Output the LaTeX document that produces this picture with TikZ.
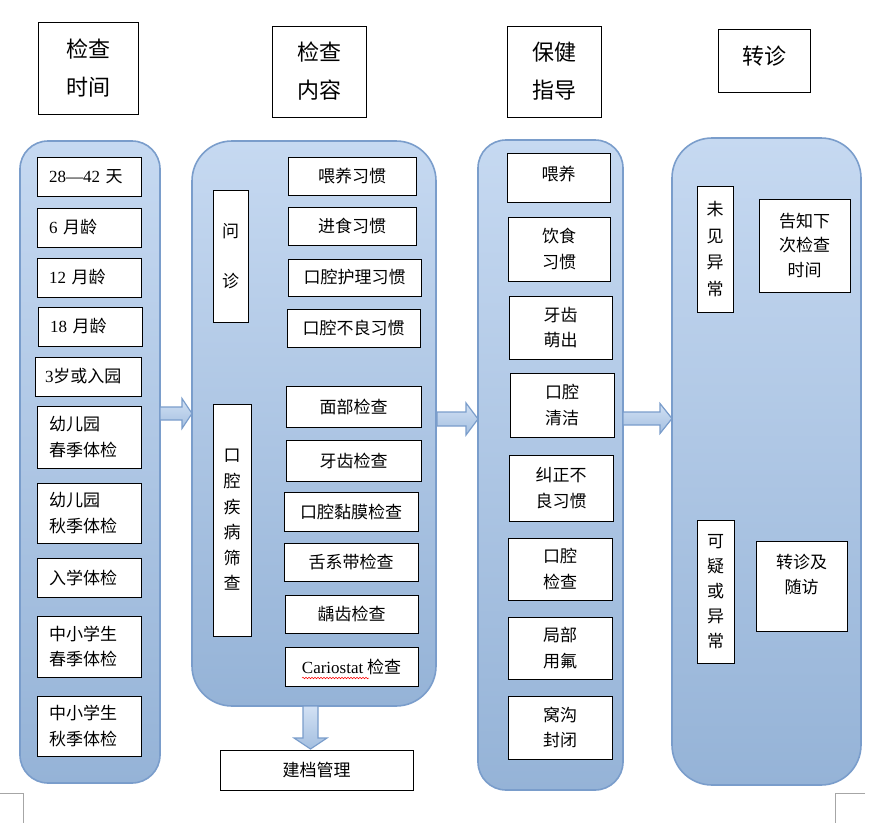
\documentclass[tikz,border=0pt]{standalone}
\usepackage{fontspec}
\setmainfont{Liberation Serif}
\newfontfamily\cjk{Noto Sans CJK SC}
\usetikzlibrary{decorations.pathmorphing}
\definecolor{coltop}{HTML}{C6D9F1}
\definecolor{colbot}{HTML}{95B3D7}
\definecolor{colline}{HTML}{7A9DCB}
\definecolor{arrtop}{HTML}{D2E1F4}
\definecolor{arrbot}{HTML}{A4BFE0}
\newcommand\lat[1]{{\rmfamily #1}}
\newcommand\myharrow[6]{\draw[barrow] (#1,#2-#5) -- (#3,#2-#5) -- (#3,#2-#6) -- (#4,#2) -- (#3,#2+#6) -- (#3,#2+#5) -- (#1,#2+#5) -- cycle;}
\tikzset{
  box/.style={draw=black, line width=0.8pt, fill=white, inner sep=0pt, align=center,
    font=\cjk\fontsize{17}{25.5}\selectfont},
  lbox/.style={box, align=left},
  hbox/.style={box, font=\cjk\fontsize{22}{38}\selectfont},
  colbox/.style={draw=colline, line width=1.6pt, top color=coltop, bottom color=colbot, inner sep=0pt},
  barrow/.style={draw=colline, line width=1.2pt, top color=arrtop, bottom color=arrbot},
  cornermark/.style={draw=gray!70, line width=0.8pt},
}
\begin{document}
\begin{tikzpicture}[x=1pt,y=-1pt]
\useasboundingbox (0,0) rectangle (881,827);

% headers
\node[hbox, minimum width=100pt, minimum height=92pt] (h1) at (88,68) {检查\\时间};
\node[hbox, minimum width=94pt, minimum height=91pt] (h2) at (319,71.5) {检查\\内容};
\node[hbox, minimum width=94pt, minimum height=91pt] (h3) at (554,71.5) {保健\\指导};
\node[hbox, minimum width=92pt, minimum height=63pt, text depth=10pt] (h4) at (764,60.5) {转诊};

% columns
\node[colbox, rounded corners=28pt, minimum width=140pt, minimum height=642pt] (c1) at (90,462) {};
\node[colbox, rounded corners=40pt, minimum width=244pt, minimum height=565pt] (c2) at (314,423.5) {};
\node[colbox, rounded corners=28pt, minimum width=145pt, minimum height=650pt] (c3) at (550.5,465) {};
\node[colbox, rounded corners=40pt, minimum width=189pt, minimum height=647pt] (c4) at (766.5,461.5) {};

% block arrows
\myharrow{160}{413.5}{182}{192}{6.5}{15}
\myharrow{437}{419}{466}{478}{7}{16}
\myharrow{623}{418.5}{660}{672}{6.5}{15}
\draw[barrow] (303,706) -- (303,738) -- (294,738) -- (310.5,749) -- (327,738) -- (318,738) -- (318,706) -- cycle;

% column 1
\node[lbox, minimum width=104pt, minimum height=39pt, text width=80pt] (a1) at (89,176.5) {\lat{28—42} 天};
\node[lbox, minimum width=104pt, minimum height=39pt, text width=80pt] (a2) at (89,227.5) {\lat{6} 月龄};
\node[lbox, minimum width=104pt, minimum height=39pt, text width=80pt] (a3) at (89,277.5) {\lat{12} 月龄};
\node[lbox, minimum width=104pt, minimum height=39pt, text width=80pt] (a4) at (90,326.5) {\lat{18} 月龄};
\node[lbox, minimum width=106pt, minimum height=39pt, text width=86pt] (a5) at (88,376.5) {\lat{3}岁或入园};
\node[lbox, minimum width=104pt, minimum height=62pt, text width=80pt] (a6) at (89,437) {幼儿园\\春季体检};
\node[lbox, minimum width=104pt, minimum height=60pt, text width=80pt] (a7) at (89,513) {幼儿园\\秋季体检};
\node[lbox, minimum width=104pt, minimum height=39pt, text width=80pt] (a8) at (89,577.5) {入学体检};
\node[lbox, minimum width=104pt, minimum height=61pt, text width=80pt] (a9) at (89,646.5) {中小学生\\春季体检};
\node[lbox, minimum width=104pt, minimum height=60pt, text width=80pt] (a10) at (89,726) {中小学生\\秋季体检};

% column 2
\node[box, minimum width=35pt, minimum height=132pt, font=\cjk\fontsize{17}{50}\selectfont] (q) at (230.5,256) {问\\诊};
\node[box, minimum width=128pt, minimum height=38pt] (b1) at (352,176) {喂养习惯};
\node[box, minimum width=128pt, minimum height=38pt] (b2) at (352,226) {进食习惯};
\node[box, minimum width=133pt, minimum height=37pt] (b3) at (354.5,277.5) {口腔护理习惯};
\node[box, minimum width=133pt, minimum height=38pt] (b4) at (353.5,328) {口腔不良习惯};
\node[box, minimum width=38pt, minimum height=232pt, font=\cjk\fontsize{17}{25.6}\selectfont] (s) at (232,520) {口\\腔\\疾\\病\\筛\\查};
\node[box, minimum width=135pt, minimum height=41pt] (b5) at (353.5,406.5) {面部检查};
\node[box, minimum width=135pt, minimum height=41pt] (b6) at (353.5,460.5) {牙齿检查};
\node[box, minimum width=134pt, minimum height=39pt] (b7) at (351,511.5) {口腔黏膜检查};
\node[box, minimum width=134pt, minimum height=38pt] (b8) at (351,562) {舌系带检查};
\node[box, minimum width=133pt, minimum height=38pt] (b9) at (351.5,614) {龋齿检查};
\node[box, minimum width=133pt, minimum height=39pt] (b10) at (351.5,666.5) {\lat{Cariostat} 检查};
\draw[red, line width=0.5pt, decorate, decoration={snake, amplitude=0.8pt, segment length=3pt}] (302,678) -- (369,678);
\node[box, minimum width=193pt, minimum height=40pt] (file) at (316.5,770) {建档管理};

% column 3
\node[box, minimum width=103pt, minimum height=49pt, text depth=9pt] (d1) at (558.5,177.5) {喂养};
\node[box, minimum width=102pt, minimum height=64pt] (d2) at (559,249) {饮食\\习惯};
\node[box, minimum width=103pt, minimum height=63pt] (d3) at (560.5,327.5) {牙齿\\萌出};
\node[box, minimum width=104pt, minimum height=64pt] (d4) at (562,405) {口腔\\清洁};
\node[box, minimum width=104pt, minimum height=66pt] (d5) at (561,488) {纠正不\\良习惯};
\node[box, minimum width=104pt, minimum height=62pt] (d6) at (560,569) {口腔\\检查};
\node[box, minimum width=104pt, minimum height=62pt] (d7) at (560,648) {局部\\用氟};
\node[box, minimum width=104pt, minimum height=63pt] (d8) at (560,727.5) {窝沟\\封闭};

% column 4
\node[box, minimum width=36pt, minimum height=126pt, font=\cjk\fontsize{17}{26.5}\selectfont] (e1) at (715,249) {未\\见\\异\\常};
\node[box, minimum width=91pt, minimum height=93pt, font=\cjk\fontsize{17}{24.5}\selectfont] (e2) at (804.5,245.5) {告知下\\次检查\\时间};
\node[box, minimum width=37pt, minimum height=143pt, font=\cjk\fontsize{17}{25}\selectfont] (e3) at (715.5,591.5) {可\\疑\\或\\异\\常};
\node[box, minimum width=91pt, minimum height=90pt, font=\cjk\fontsize{17}{25}\selectfont] (e4) at (801.5,586) {转诊及\\随访\\\mbox{}};

% page corner marks
\draw[cornermark] (0,793) -- (23,793) -- (23,823);
\draw[cornermark] (865,793) -- (835,793) -- (835,823);
\end{tikzpicture}
\end{document}
